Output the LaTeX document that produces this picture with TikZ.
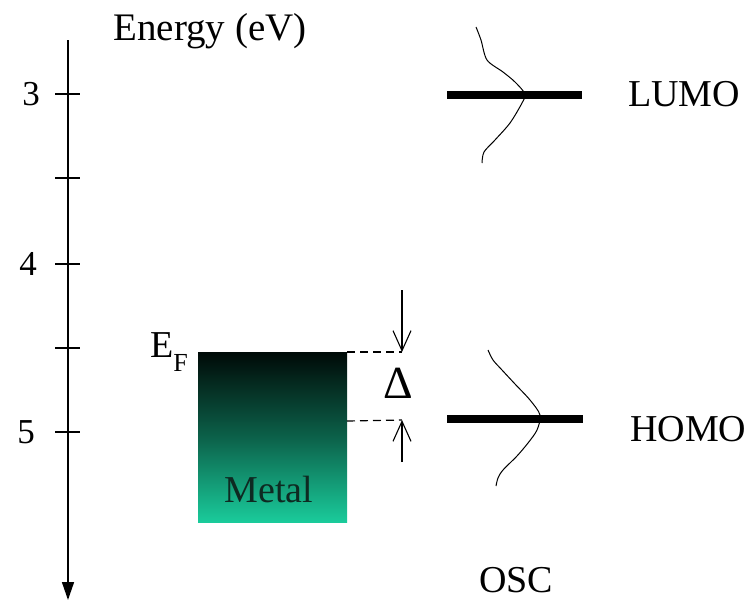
\documentclass[tikz,border=0pt]{standalone}
\usepackage{fontspec}
\setmainfont{Liberation Serif}
\newfontfamily\tnr{Liberation Serif}
\usetikzlibrary{arrows.meta}
\definecolor{metaltop}{HTML}{000A07}
\definecolor{metalbot}{HTML}{1ACB9B}
\definecolor{metaltext}{HTML}{0E2A22}
\tikzset{
  lbl/.style={inner sep=0pt, font=\tnr\fontsize{38}{40}\selectfont},
  tick/.style={line width=1.2pt},
  level/.style={line width=8pt},
  orbital/.style={line width=1pt, smooth, tension=0.5},
  guide/.style={line width=1.2pt, dash pattern=on 8pt off 5pt},
  barb/.style={line width=1.1pt, -{Straight Barb[length=20pt,width=18pt]}}
}
\begin{document}
\begin{tikzpicture}[x=1pt,y=-1pt]
\useasboundingbox (0,0) rectangle (753,603);
% axis
\coordinate (axtop) at (68,40);
\coordinate (axbot) at (68,600);
\draw[line width=1.5pt, -{Triangle[length=18pt,width=12pt]}] (axtop) -- (axbot);
\node[lbl, font=\tnr\fontsize{39}{40}\selectfont] (energy) at (210,31) {Energy (eV)};
\foreach \y/\n in {94/t3, 178/t35, 264/t4, 348/t45, 432/t5}{
  \coordinate (\n) at (68,\y);
  \draw[tick] ([xshift=-13pt]\n) -- ([xshift=12pt]\n);
}
\node[lbl, font=\tnr\fontsize{35}{36}\selectfont, anchor=east] (l3) at (40,94) {3};
\node[lbl, font=\tnr\fontsize{35}{36}\selectfont, anchor=east] (l4) at (37,264) {4};
\node[lbl, font=\tnr\fontsize{35}{36}\selectfont, anchor=east] (l5) at (35,432) {5};
% metal
\shade[top color=metaltop, bottom color=metalbot, middle color=metalbot!45!metaltop, shading angle=0] (198,352) rectangle (347,522);
\coordinate (mtr) at (347,352);
\node[lbl, text=metaltext] (metal) at (269,489) {Metal};
\node[lbl, anchor=east] (ef) at (188,352) {E\raisebox{-0.35em}{\fontsize{26}{26}\selectfont F}};
% LUMO
\coordinate (lumoL) at (447,95);
\coordinate (lumoR) at (582,95);
\draw[level] (lumoL) -- (lumoR);
\node[lbl, anchor=west] (lumo) at (628,94) {LUMO};
\draw[orbital] plot coordinates {(476,27) (481,40) (487,60) (503,72) (515,82) (525,94) (522,103) (510,123) (495,140) (484,152) (482,163)};
% HOMO
\coordinate (homoL) at (447,419);
\coordinate (homoR) at (583,419);
\draw[level] (homoL) -- (homoR);
\node[lbl, anchor=west] (homo) at (630,429) {HOMO};
\draw[orbital] plot coordinates {(488,350) (493,360) (502,370) (515,384) (530,400) (540,415) (537,430) (528,443) (517,456) (503,470) (498,478) (496,486)};
% OSC
\node[lbl] (osc) at (516,580) {OSC};
% delta
\coordinate (dtop) at (402,352);
\coordinate (dbot) at (402,420);
\coordinate (mbr) at (347,421);
\draw[guide] (mtr) -- (dtop);
\draw[guide] (mbr) -- (dbot);
\coordinate (atop) at (402,290);
\coordinate (abot) at (402,462);
\draw[barb] (atop) -- (dtop);
\draw[barb] (abot) -- (dbot);
\node[inner sep=0pt, font=\tnr\fontsize{46}{46}\selectfont] (delta) at (398,383) {Δ};
\end{tikzpicture}
\end{document}
